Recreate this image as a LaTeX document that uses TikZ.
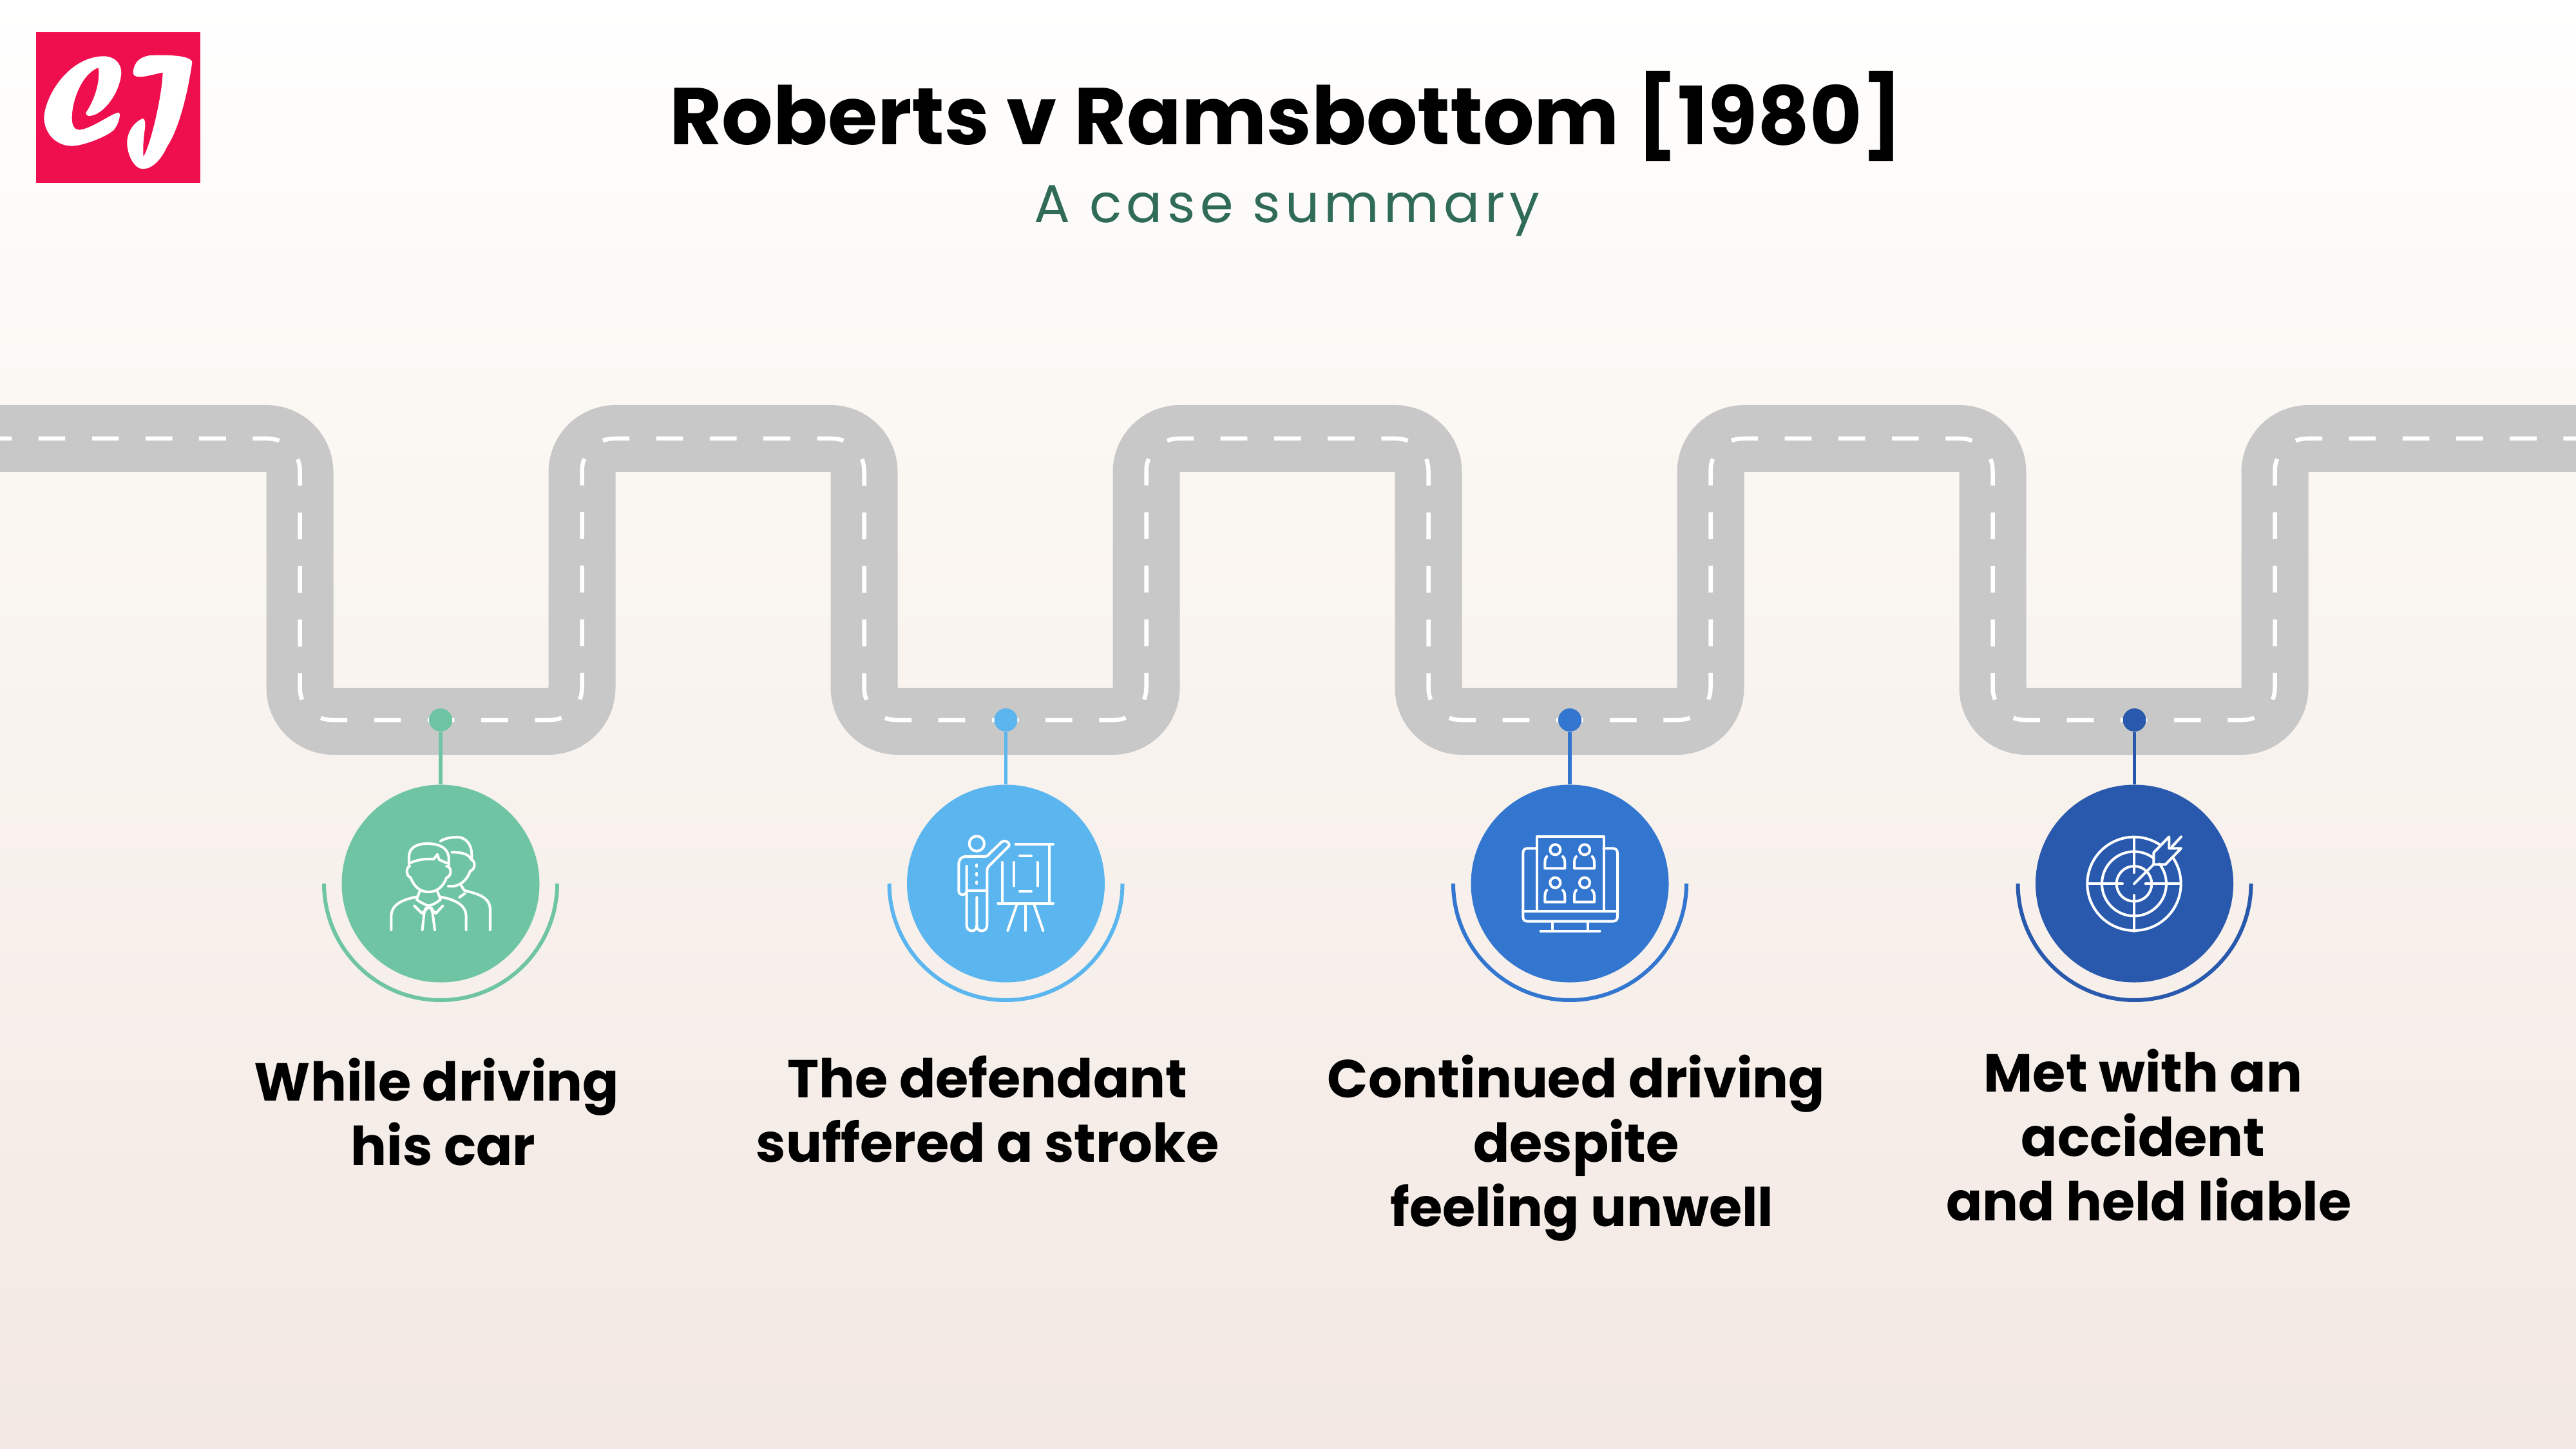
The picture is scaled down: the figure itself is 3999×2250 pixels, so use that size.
\documentclass[tikz,border=0pt]{standalone}
\usepackage{fontspec}
\setmainfont{Poppins}
\newfontfamily\subtitlefont[LetterSpace=9]{Poppins}
\tikzset{
  roadbase/.style={draw={rgb, 255:red, 200; green, 200; blue, 200 },line width=20.8pt,rounded corners=10.4pt},
  roaddash/.style={draw=white,line width=1.3pt,rounded corners=10pt,dash pattern=on 8.32pt off 8.32pt,dash phase=4.72pt},
  iconline/.style={draw=white,line width=0.8pt,line cap=round,line join=round},
  stepdot/.style={circle,inner sep=0pt,minimum size=7.2pt},
  stepdisc/.style={circle,inner sep=0pt,minimum size=61.4pt},
  stemline/.style={line width=1.06pt},
  bowline/.style={line width=1.2pt},
  steplabel/.style={font=\bfseries\fontsize{16.6pt}{20pt}\selectfont,align=center,text=black},
  stepa/.style={fill={rgb, 255:red, 111; green, 197; blue, 163 },draw=none},
  stepb/.style={fill={rgb, 255:red, 91; green, 181; blue, 238 },draw=none},
  stepc/.style={fill={rgb, 255:red, 50; green, 118; blue, 207 },draw=none},
  stepd/.style={fill={rgb, 255:red, 41; green, 89; blue, 173 },draw=none},
}
\begin{document}
\begin{tikzpicture}[x=0.2pt,y=0.2pt,yscale=-1]
    \useasboundingbox (0,0) rectangle (3999,2250);
    %Background
    \shade [top color=white,bottom color={rgb, 255:red, 251; green, 248; blue, 244 }] (0,0) rectangle (3999,600);
    \shade [top color={rgb, 255:red, 251; green, 248; blue, 244 },bottom color={rgb, 255:red, 243; green, 232; blue, 227 }] (0,600) rectangle (3999,2250);
    %Logo
    \fill [fill={rgb, 255:red, 239; green, 15; blue, 78 }] (56,50) rectangle (311,284);
    \begin{scope}[scale=0.3333]
    \fill [white] (205,545) .. controls (215,430) and (330,265) .. (480,262) .. controls (535,262) and (565,295) .. (565,340) .. controls (560,430) and (480,540) .. (415,540) .. controls (405,540) and (398,532) .. (400,525) .. controls (445,460) and (468,370) .. (458,315) .. controls (380,345) and (335,470) .. (335,550) .. controls (335,590) and (350,605) .. (370,605) .. controls (430,600) and (530,520) .. (555,525) .. controls (565,540) and (545,595) .. (525,610) .. controls (480,645) and (380,680) .. (335,680) .. controls (260,680) and (205,620) .. (205,545) -- cycle;
    \fill [white] (620,335) .. controls (625,290) and (650,265) .. (700,258) .. controls (760,255) and (890,255) .. (895,290) .. controls (880,400) and (840,590) .. (780,680) .. controls (750,745) and (710,787) .. (665,787) .. controls (625,787) and (592,720) .. (592,665) .. controls (592,610) and (630,565) .. (665,552) .. controls (675,555) and (678,570) .. (675,600) .. controls (668,640) and (665,700) .. (668,730) .. controls (700,680) and (755,450) .. (758,338) .. controls (720,345) and (680,358) .. (650,358) .. controls (630,358) and (618,350) .. (620,335) -- cycle;
    \end{scope}
    %Title
    \node [font=\bfseries\fontsize{25pt}{30pt}\selectfont,text=black] (title) at (1997,181) {Roberts v Ramsbottom [1980]};
    \node [font=\subtitlefont\fontsize{16.6pt}{20pt}\selectfont,text={rgb, 255:red, 47; green, 107; blue, 87 }] (subtitle) at (1998,327) {A case summary};
    %Road
    \draw [roadbase] (0,681) -- (465.5,681) -- (465.5,1120) -- (903.5,1120) -- (903.5,681) -- (1341.5,681) -- (1341.5,1120) -- (1779.5,1120) -- (1779.5,681) -- (2217.5,681) -- (2217.5,1120) -- (2655.5,1120) -- (2655.5,681) -- (3093.5,681) -- (3093.5,1120) -- (3531.5,1120) -- (3531.5,681) -- (3999,681);
    \draw [roaddash] (0,681) -- (465.5,681) -- (465.5,1118) -- (903.5,1118) -- (903.5,681) -- (1341.5,681) -- (1341.5,1118) -- (1779.5,1118) -- (1779.5,681) -- (2217.5,681) -- (2217.5,1118) -- (2655.5,1118) -- (2655.5,681) -- (3093.5,681) -- (3093.5,1118) -- (3531.5,1118) -- (3531.5,681) -- (3999,681);
    %Step one
    \node [stepdot,stepa] (dota) at (684,1118) {};
    \node [stepdisc,stepa] (disca) at (684,1372) {};
    \draw [stemline,draw={rgb, 255:red, 111; green, 197; blue, 163 }] (dota) -- (disca);
    \draw [bowline,draw={rgb, 255:red, 111; green, 197; blue, 163 }] (disca.center) ++(-181,0) arc [start angle=180,end angle=0,radius=181];
    \node [steplabel] (labela) at (678,1727) {While driving\\\hspace*{4pt}his car};
    %Step two
    \node [stepdot,stepb] (dotb) at (1561.5,1118) {};
    \node [stepdisc,stepb] (discb) at (1561.5,1372) {};
    \draw [stemline,draw={rgb, 255:red, 91; green, 181; blue, 238 }] (dotb) -- (discb);
    \draw [bowline,draw={rgb, 255:red, 91; green, 181; blue, 238 }] (discb.center) ++(-181,0) arc [start angle=180,end angle=0,radius=181];
    \node [steplabel] (labelb) at (1533,1722) {The defendant\\suffered a stroke};
    %Step three
    \node [stepdot,stepc] (dotc) at (2437,1118) {};
    \node [stepdisc,stepc] (discc) at (2437,1372) {};
    \draw [stemline,draw={rgb, 255:red, 50; green, 118; blue, 207 }] (dotc) -- (discc);
    \draw [bowline,draw={rgb, 255:red, 50; green, 118; blue, 207 }] (discc.center) ++(-181,0) arc [start angle=180,end angle=0,radius=181];
    \node [steplabel] (labelc) at (2447,1783) {Continued driving\\despite\\\hspace*{3.5pt}feeling unwell};
    %Step four
    \node [stepdot,stepd] (dotd) at (3313.5,1118) {};
    \node [stepdisc,stepd] (discd) at (3313.5,1372) {};
    \draw [stemline,draw={rgb, 255:red, 41; green, 89; blue, 173 }] (dotd) -- (discd);
    \draw [bowline,draw={rgb, 255:red, 41; green, 89; blue, 173 }] (discd.center) ++(-181,0) arc [start angle=180,end angle=0,radius=181];
    \node [steplabel] (labeld) at (3327,1763) {Met with an\\accident\\\hspace*{3.5pt}and held liable};
    %Icon: two people
    \begin{scope}[shift={(480,1080)},scale=0.3333]
    \draw [iconline] (465,785) -- (465,750) .. controls (465,710) and (500,690) .. (550,690) .. controls (605,690) and (650,710) .. (650,760) -- (650,795);
    \draw [iconline] (470,780) .. controls (510,762) and (550,760) .. (580,762) -- (597,740) -- (605,765) -- (640,780);
    \draw [iconline] (468,795) .. controls (450,800) and (450,840) .. (472,848) .. controls (490,895) and (520,915) .. (557,915) .. controls (595,915) and (625,890) .. (640,848) .. controls (665,840) and (665,800) .. (640,795);
    \draw [iconline] (515,912) -- (500,950) .. controls (520,965) and (540,975) .. (557,980) .. controls (575,975) and (595,965) .. (612,950) -- (598,915);
    \draw [iconline] (500,938) .. controls (440,950) and (382,970) .. (382,1030) -- (382,1092);
    \draw [iconline] (612,938) .. controls (670,950) and (731,970) .. (731,1030) -- (731,1092);
    \draw [iconline] (490,980) -- (525,1015) -- (557,985) -- (590,1015) -- (622,980);
    \draw [iconline] (543,990) -- (535,1015) -- (527,1092);
    \draw [iconline] (570,990) -- (575,1015) -- (585,1092);
    \draw [iconline] (612,678) .. controls (640,660) and (680,660) .. (690,660) .. controls (730,660) and (757,695) .. (757,740) -- (757,765);
    \draw [iconline] (665,730) .. controls (700,730) and (740,735) .. (752,760);
    \draw [iconline] (755,765) .. controls (775,770) and (775,810) .. (750,818) .. controls (735,860) and (700,895) .. (648,888);
    \draw [iconline] (708,885) -- (722,908) .. controls (790,925) and (843,940) .. (843,1000) -- (843,1092);
    \draw [iconline] (725,922) -- (700,940);
    \end{scope}
    %Icon: presenter and easel
    \begin{scope}[shift={(1360,1200)},scale=0.3333]
    \draw [iconline] (469,330) circle [radius=35];
    \draw [iconline] (422,550) .. controls (420,575) and (385,575) .. (385,550) -- (385,430) .. controls (385,405) and (395,390) .. (420,390) -- (505,390) .. controls (520,390) and (525,380) .. (530,375) -- (585,322) .. controls (600,310) and (625,325) .. (620,340) -- (525,435) .. controls (517,445) and (517,450) .. (517,465) -- (517,710) .. controls (517,745) and (469,745) .. (469,712) -- (469,580);
    \draw [iconline] (422,435) -- (422,710) .. controls (422,745) and (469,745) .. (469,712);
    \draw [iconline] (422,549) -- (517,549);
    \draw [iconline] (469,428) -- (469,437);
    \draw [iconline] (469,468) -- (469,477);
    \draw [iconline] (469,508) -- (469,516);
    \draw [iconline] (650,334) -- (825,334);
    \draw [iconline] (807,334) -- (807,608);
    \draw [iconline] (587,417) -- (587,608);
    \draw [iconline] (568,608) -- (825,608);
    \draw [iconline] (657,610) -- (613,735);
    \draw [iconline] (696,610) -- (696,735);
    \draw [iconline] (735,610) -- (778,735);
    \draw [iconline] (669,388) -- (723,388);
    \draw [iconline] (642,417) -- (642,527);
    \draw [iconline] (752,417) -- (752,527);
    \draw [iconline] (669,553) -- (723,553);
    \end{scope}
    %Icon: monitor with four people
    \begin{scope}[shift={(2240,1200)},scale=0.3333]
    \draw [iconline] (437,352) -- (395,352) .. controls (380,352) and (373,360) .. (373,375) -- (373,670) .. controls (373,685) and (380,692) .. (395,692) -- (790,692) .. controls (805,692) and (813,685) .. (813,670) -- (813,375) .. controls (813,360) and (805,352) .. (790,352) -- (749,352);
    \draw [iconline] (437,645) -- (437,297) -- (749,297) -- (749,645);
    \draw [iconline] (373,645) -- (813,645);
    \draw [iconline] (510,692) -- (510,737);
    \draw [iconline] (675,692) -- (675,737);
    \draw [iconline] (455,737) -- (731,737);
    \draw [iconline] (523,358) circle [radius=24];
    \draw [iconline] (484,390) .. controls (475,400) and (475,410) .. (475,420) -- (475,445) -- (568,445) -- (568,420) .. controls (568,410) and (568,400) .. (558,390);
    \draw [iconline] (660,358) circle [radius=24];
    \draw [iconline] (621,390) .. controls (612,400) and (612,410) .. (612,420) -- (612,445) -- (705,445) -- (705,420) .. controls (705,410) and (705,400) .. (695,390);
    \draw [iconline] (523,512) circle [radius=24];
    \draw [iconline] (484,547) .. controls (475,557) and (475,567) .. (475,577) -- (475,602) -- (568,602) -- (568,577) .. controls (568,567) and (568,557) .. (558,547);
    \draw [iconline] (660,512) circle [radius=24];
    \draw [iconline] (621,547) .. controls (612,557) and (612,567) .. (612,577) -- (612,602) -- (705,602) -- (705,577) .. controls (705,567) and (705,557) .. (695,547);
    \end{scope}
    %Icon: target and dart
    \begin{scope}[shift={(3110,1200)},scale=0.3333]
    \draw [iconline] (609,517) ++(-34.3:218) arc [start angle=-34.3,end angle=303.6,radius=218];
    \draw [iconline] (609,517) ++(-38:150) arc [start angle=-38,end angle=307.5,radius=150];
    \draw [iconline] (609,517) circle [radius=82];
    \draw [iconline] (609,300) -- (609,465);
    \draw [iconline] (609,570) -- (609,738);
    \draw [iconline] (392,517) -- (555,517);
    \draw [iconline] (662,517) -- (825,517);
    \draw [iconline] (609,517) -- (700,427);
    \draw [iconline] (700,372) -- (772,298) -- (772,352) -- (828,352) -- (755,427) -- (700,427) -- cycle;
    \draw [iconline] (785,345) -- (828,298);
    \end{scope}
\end{tikzpicture}
\end{document}
